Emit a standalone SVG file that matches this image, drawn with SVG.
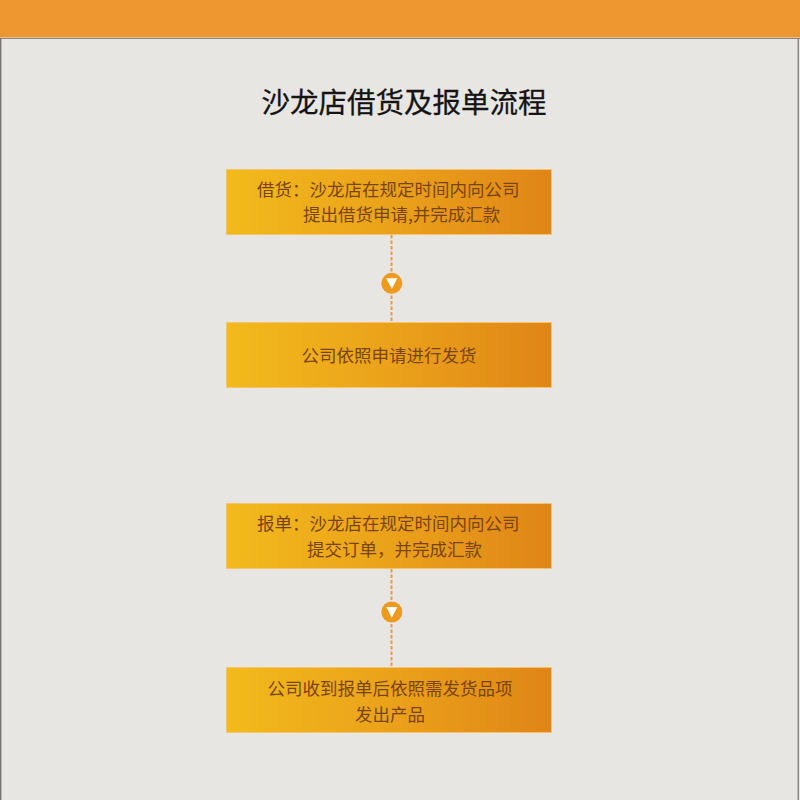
<svg xmlns="http://www.w3.org/2000/svg" width="800" height="800" viewBox="0 0 800 800">
<defs>
<linearGradient id="boxg" x1="0" y1="0" x2="1" y2="0">
<stop offset="0" stop-color="#F2BA1C"/>
<stop offset="0.5" stop-color="#EBA21A"/>
<stop offset="1" stop-color="#DF8517"/>
</linearGradient>
<style>
.box{fill:url(#boxg);stroke:#F6C46A;stroke-width:1}
.t{font-family:"Noto Sans CJK SC","Noto Sans",sans-serif;font-size:17.5px;fill:#7A4410;dominant-baseline:central}
.c{text-anchor:middle}
.dot{stroke:#E99C3C;stroke-width:2;stroke-dasharray:3.5 2;fill:none}
.circ{fill:#EE9A1E}
.tri{fill:#FFFFFF}
</style>
</defs>
<rect x="0" y="0" width="800" height="800" fill="#E8E6E3"/>
<rect x="0" y="0" width="800" height="37.5" fill="#EE962F"/>
<line x1="0" y1="38.5" x2="800" y2="38.5" stroke="#8A8580" stroke-width="1.2"/>
<line x1="0.7" y1="38" x2="0.7" y2="800" stroke="#7A7570" stroke-width="1.4"/>
<line x1="798.3" y1="38" x2="798.3" y2="800" stroke="#8A8580" stroke-width="1.4"/>
<text x="404" y="100" text-anchor="middle" dominant-baseline="central" font-family="'Noto Sans CJK SC','Noto Sans',sans-serif" font-size="28.5" fill="#141414" stroke="#141414" stroke-width="0.3">沙龙店借货及报单流程</text>
<g id="connectors">
<line class="dot" x1="391.5" y1="235" x2="391.5" y2="322"/>
<line class="dot" x1="391.5" y1="569" x2="391.5" y2="667"/>
<circle class="circ" cx="391.8" cy="283.3" r="10.5"/>
<polygon class="tri" points="386.3,278.3 397.3,278.3 391.8,289"/>
<circle class="circ" cx="391.8" cy="612" r="10.5"/>
<polygon class="tri" points="386.3,607 397.3,607 391.8,617.7"/>
</g>
<g id="node1">
<rect class="box" x="226.5" y="169.5" width="325" height="65"/>
<text class="t" x="257" y="188">借货：沙龙店在规定时间内向公司</text>
<text class="t" x="303" y="213">提出借货申请,并完成汇款</text>
</g>
<g id="node2">
<rect class="box" x="226.5" y="322.5" width="325" height="65"/>
<text class="t c" x="389" y="354">公司依照申请进行发货</text>
</g>
<g id="node3">
<rect class="box" x="226.5" y="503.5" width="325" height="65"/>
<text class="t" x="257" y="522">报单：沙龙店在规定时间内向公司</text>
<text class="t" x="307" y="548">提交订单，并完成汇款</text>
</g>
<g id="node4">
<rect class="box" x="226.5" y="667.5" width="325" height="65"/>
<text class="t c" x="390" y="687">公司收到报单后依照需发货品项</text>
<text class="t c" x="390" y="713">发出产品</text>
</g>
</svg>
